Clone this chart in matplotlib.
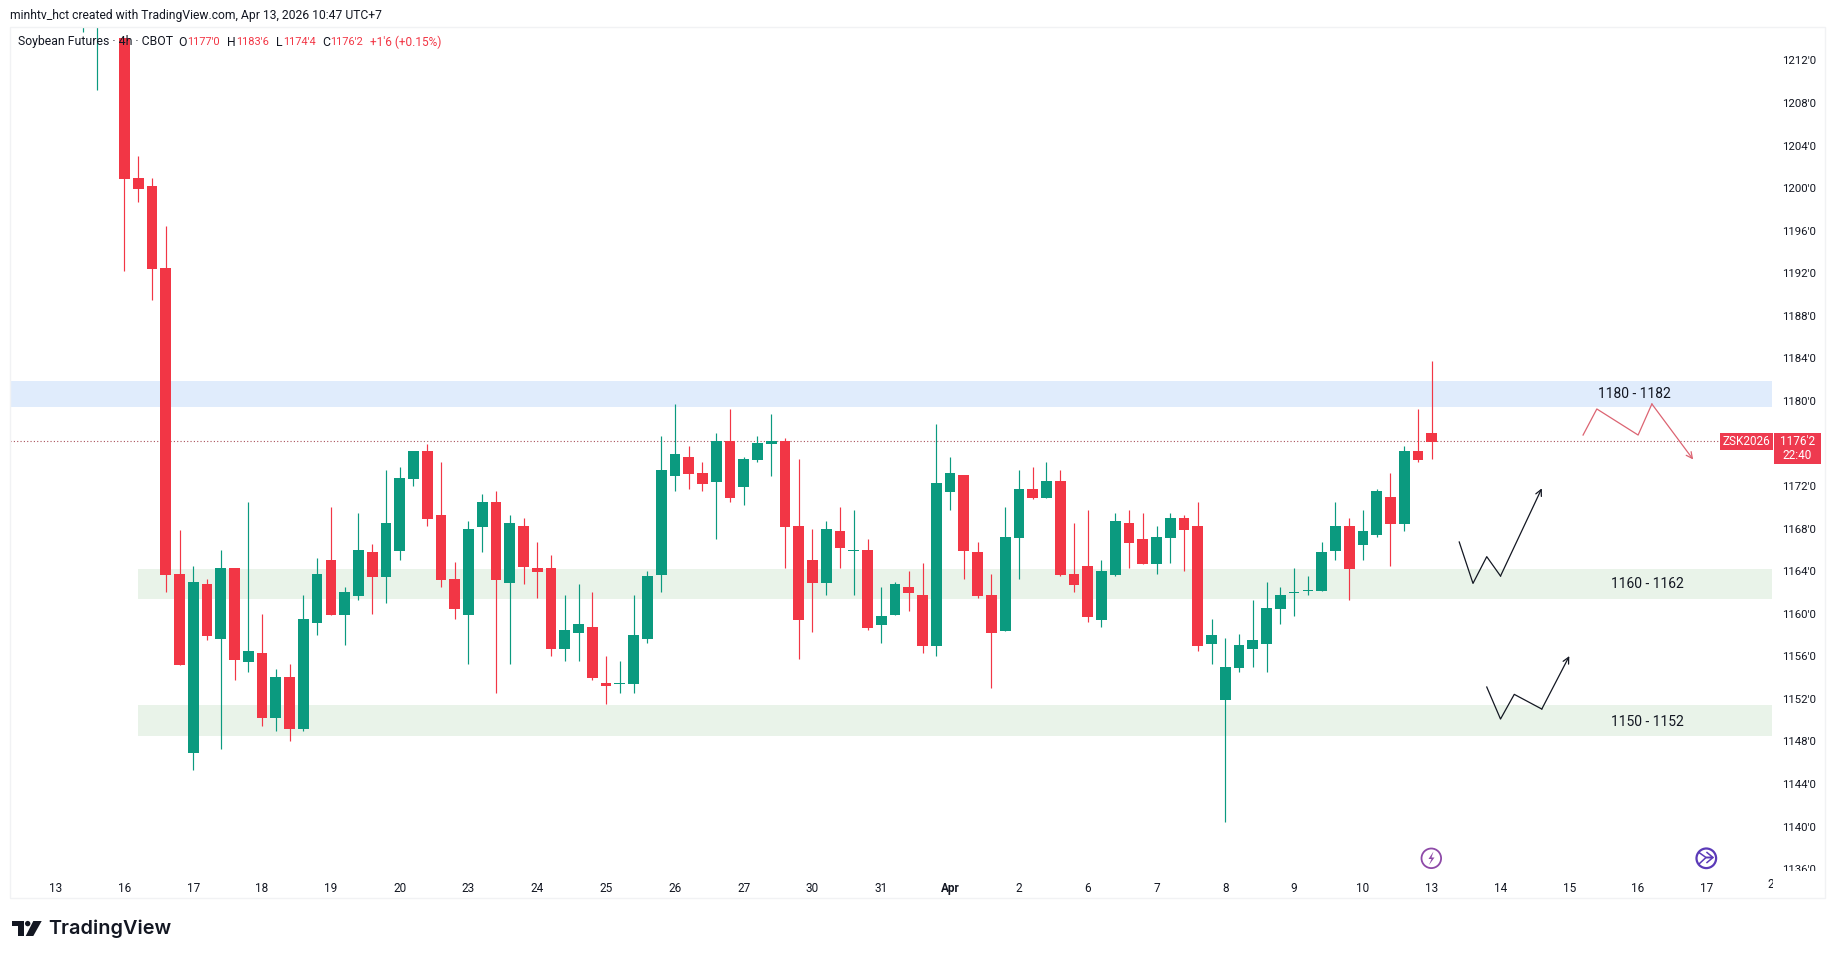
"""
plot.py

Soybean futures 4h candlestick chart with support and resistance zones.
"""

import matplotlib
matplotlib.use("Agg")
import matplotlib.pyplot as plt
import numpy as np
from matplotlib.patches import Circle, Polygon, Rectangle
from matplotlib.transforms import Bbox

W, H = 1835, 959

# --- Candles, bar index starts at 2 ---
first_bar = 2
opens = [1219.0, 1218.0, 1220.0, 1214.1, 1200.96, 1200.21, 1192.5, 1163.74, 1146.91, 1162.8,
         1157.63, 1164.3, 1155.46, 1156.31, 1150.2, 1154.06, 1149.17, 1159.13, 1165.05, 1159.88,
         1161.67, 1165.8, 1163.45, 1165.9, 1172.67, 1175.3, 1169.28, 1163.27, 1159.88, 1168.15,
         1170.5, 1162.89, 1168.25, 1164.3, 1164.3, 1156.69, 1158.19, 1158.76, 1153.49, 1153.4,
         1153.4, 1157.63, 1163.64, 1172.95, 1174.73, 1173.23, 1172.38, 1176.24, 1171.91, 1174.45,
         1175.99, 1176.24, 1168.25, 1165.05, 1162.89, 1167.78, 1165.9, 1165.99, 1158.94, 1159.88,
         1162.52, 1161.76, 1156.97, 1171.44, 1173.04, 1165.8, 1161.76, 1158.38, 1167.12, 1171.73,
         1170.88, 1172.48, 1163.74, 1164.49, 1159.41, 1163.64, 1168.53, 1167.03, 1164.68, 1167.12,
         1169.0, 1168.25, 1157.16, 1151.9, 1154.9, 1156.69, 1157.16, 1160.45, 1161.95, 1162.14,
         1162.14, 1165.9, 1168.25, 1166.46, 1167.4, 1170.97, 1168.44, 1175.3, 1176.99]
closes = [1222.0, 1222.0, 1216.0, 1200.87, 1199.96, 1192.44, 1163.64, 1155.18, 1162.98, 1157.91,
          1164.3, 1155.65, 1156.5, 1150.2, 1154.06, 1149.17, 1159.5, 1163.74, 1159.88, 1162.04,
          1165.99, 1163.45, 1168.53, 1172.77, 1175.3, 1168.9, 1163.17, 1160.45, 1167.96, 1170.5,
          1163.17, 1168.53, 1164.4, 1163.93, 1156.69, 1158.47, 1159.04, 1153.96, 1153.21, 1153.49,
          1158.0, 1163.55, 1173.51, 1175.02, 1173.14, 1172.2, 1176.24, 1170.88, 1174.55, 1176.05,
          1176.2, 1168.15, 1159.41, 1162.89, 1167.97, 1166.18, 1165.99, 1158.66, 1159.79, 1162.8,
          1161.95, 1156.97, 1172.29, 1173.23, 1165.9, 1161.67, 1158.19, 1167.21, 1171.73, 1170.88,
          1172.48, 1163.64, 1162.7, 1159.69, 1164.02, 1168.72, 1166.65, 1164.68, 1167.21, 1169.0,
          1167.87, 1156.97, 1158.0, 1154.99, 1157.06, 1157.53, 1160.54, 1161.76, 1162.05, 1162.23,
          1165.8, 1168.25, 1164.21, 1167.78, 1171.54, 1168.44, 1175.3, 1174.45, 1176.14]
highs = [1224.0, 1224.0, 1222.0, 1214.1, 1203.06, 1200.96, 1196.48, 1167.87, 1164.49, 1163.3,
         1166.02, 1164.3, 1170.5, 1159.98, 1154.81, 1155.28, 1161.79, 1165.24, 1170.06, 1162.54,
         1169.44, 1166.55, 1173.52, 1173.83, 1175.3, 1176.0, 1174.27, 1164.86, 1168.72, 1171.25,
         1171.54, 1169.28, 1169.0, 1166.74, 1165.52, 1161.76, 1162.8, 1162.05, 1156.03, 1155.56,
         1161.76, 1164.02, 1176.71, 1179.71, 1175.77, 1174.3, 1176.99, 1179.24, 1174.73, 1176.74,
         1178.81, 1176.52, 1174.55, 1167.97, 1168.72, 1170.03, 1169.75, 1167.03, 1162.52, 1162.99,
         1164.02, 1164.77, 1177.8, 1174.73, 1173.04, 1166.74, 1163.74, 1170.06, 1173.51, 1173.82,
         1174.3, 1173.54, 1168.56, 1169.75, 1165.05, 1169.47, 1169.75, 1169.47, 1168.25, 1169.47,
         1169.28, 1170.5, 1159.51, 1157.72, 1158.07, 1161.29, 1162.99, 1162.52, 1164.3, 1163.55,
         1166.74, 1170.5, 1169.0, 1169.75, 1171.73, 1173.23, 1175.77, 1179.24, 1183.76]
lows = [1214.7, 1209.2, 1215.5, 1192.2, 1198.74, 1189.5, 1162.07, 1155.18, 1145.31, 1157.53,
        1147.26, 1153.77, 1154.53, 1149.45, 1148.98, 1148.04, 1149.01, 1158.0, 1159.88, 1157.06,
        1161.29, 1159.98, 1161.01, 1165.05, 1172.0, 1168.25, 1162.5, 1159.5, 1155.28, 1165.8,
        1152.52, 1155.28, 1162.8, 1161.45, 1156.03, 1155.56, 1155.56, 1153.77, 1151.52, 1152.52,
        1152.52, 1157.22, 1162.04, 1171.54, 1171.73, 1171.54, 1166.99, 1170.5, 1170.22, 1174.26,
        1172.98, 1164.3, 1155.75, 1158.29, 1161.76, 1164.3, 1161.76, 1158.47, 1157.25, 1159.88,
        1160.26, 1156.28, 1156.03, 1169.75, 1163.27, 1161.48, 1153.02, 1158.38, 1163.27, 1170.79,
        1170.88, 1163.55, 1162.04, 1159.22, 1158.76, 1163.55, 1164.3, 1164.68, 1163.74, 1164.77,
        1164.02, 1156.5, 1155.28, 1140.46, 1154.53, 1155.0, 1154.53, 1159.04, 1159.79, 1161.76,
        1162.14, 1165.05, 1161.29, 1165.05, 1167.21, 1164.49, 1167.78, 1174.26, 1174.55]

# --- Axis ticks ---
date_ticks = [0, 5, 10, 15, 20, 25, 30, 35, 40, 45, 50, 55, 60, 65, 70, 75, 80, 85, 90, 95, 100,
              105, 110, 115, 120]
date_labels = ["13", "16", "17", "18", "19", "20", "23", "24", "25", "26", "27", "30", "31", "Apr",
               "2", "6", "7", "8", "9", "10", "13", "14", "15", "16", "17"]
cut_date_tick = 124.65
cut_date_label = "2"
# 1176'0 sits under the last price label, so it has no tick
price_ticks = [v for v in range(1136, 1216, 4) if v != 1176]
last_price = 1176.25

# --- Zones: bottom, top, first bar, label, label position ---
zone_bottoms = [1179.45, 1161.4, 1148.5]
zone_tops = [1181.9, 1164.2, 1151.45]
zone_starts = [-3.32, 6.0, 6.0]
zone_colors = ["#e0ecfc", "#e9f3e9", "#e9f3e9"]
zone_labels = ["1180 - 1182", "1160 - 1162", "1150 - 1152"]
zone_label_x = [114.7, 115.7, 115.7]
zone_label_y = [1180.7, 1162.76, 1149.82]

# --- Hand drawn paths ---
red_path_x = [111, 112, 115, 116, 119]
red_path_y = [1176.8, 1179.25, 1176.8, 1179.72, 1174.5]
up_path_x = [102, 103, 104, 105, 108]
up_path_y = [1166.75, 1162.86, 1165.37, 1163.55, 1171.79]
low_path_x = [104, 105, 106, 108, 110]
low_path_y = [1153.12, 1150.11, 1152.43, 1151.05, 1156.03]

GREEN = "#0b9a7f"
RED = "#f23645"
TEXT = "#131722"
FONT = "Roboto"


def px_rect(x0, y0, x1, y1, **kw):
    """Rectangle in screen pixels, y measured from the top."""
    kw.setdefault("linewidth", 0)
    return Rectangle((x0, H - y1), x1 - x0, y1 - y0, transform=None, **kw)


def px_text(fig, x, y, s, **kw):
    """Text at screen pixels, y measured from the top."""
    kw.setdefault("family", FONT)
    kw.setdefault("va", "center")
    return fig.text(x / W, 1 - y / H, s, **kw)


def clip_labels(labels, x0, y0, x1, y1):
    box = Bbox([[x0, H - y1], [x1, H - y0]])
    for lbl in labels:
        lbl.set_clip_box(box)
        lbl.set_clip_on(True)


def draw_path(ax, xs, ys, color):
    ax.plot(xs[:-1], ys[:-1], color=color, linewidth=0.9, zorder=5)
    ax.annotate("", xy=(xs[-1], ys[-1]), xytext=(xs[-2], ys[-2]), zorder=5,
                arrowprops=dict(arrowstyle="->", color=color, linewidth=0.9,
                                shrinkA=0, shrinkB=0, mutation_scale=11))


fig = plt.figure(figsize=(W / 100, H / 100), dpi=100, facecolor="white")
ax = fig.add_axes([10 / W, (H - 871) / H, 1762 / W, (871 - 27.7) / H])
for spine in ax.spines.values():
    spine.set_visible(False)

# --- Zones ---
for bottom, top, start, color in zip(zone_bottoms, zone_tops, zone_starts, zone_colors):
    ax.fill_between([start, 124.73], bottom, top, color=color, linewidth=0, zorder=1)
for x, y, label in zip(zone_label_x, zone_label_y, zone_labels):
    ax.text(x, y, label, ha="center", va="center", color=TEXT, fontsize=10, family=FONT, zorder=6)

# --- Last price line ---
ax.plot([-3.32, 124.73], [last_price, last_price], color="#a8505a", linewidth=0.8,
        linestyle=(0, (1, 2)), zorder=2)

# --- Candles ---
bars = np.arange(first_bar, first_bar + len(opens))
o, c, hi, lo = map(np.array, (opens, closes, highs, lows))
colors = [GREEN if b >= a else RED for a, b in zip(o, c)]
ax.vlines(bars, lo, hi, colors=colors, linewidth=0.85, zorder=3)
ax.bar(bars, np.maximum(np.abs(c - o), 0.1), bottom=np.minimum(o, c), width=0.78,
       color=colors, linewidth=0, zorder=4)

# --- Arrows ---
draw_path(ax, red_path_x, red_path_y, "#dc6472")
draw_path(ax, up_path_x, up_path_y, "#131722")
draw_path(ax, low_path_x, low_path_y, "#131722")

# --- Axis labels ---
ax.set_xticks(date_ticks)
ax.set_xticklabels(date_labels, family=FONT, fontsize=8.5, color=TEXT)
ax.get_xticklabels()[13].set_fontweight("bold")
ax.tick_params(axis="x", length=0, pad=8)
ax.yaxis.tick_right()
ax.set_yticks(price_ticks)
ax.set_yticklabels([f"{v}'0" for v in price_ticks], family=FONT, fontsize=8.2, color=TEXT)
ax.tick_params(axis="y", length=0, pad=7.2)
ax.set_xlim(-3.32, 124.73)
ax.set_ylim(1135.83, 1215.08)
clip_labels(ax.get_yticklabels(), 1774, 27, 1825, 871)

# the last date runs into the pane edge and is cut there
cut_label = ax.text(cut_date_tick, -14 / 843.3, cut_date_label, transform=ax.get_xaxis_transform(),
                    ha="center", va="center", family=FONT, fontsize=8.5, color=TEXT)
clip_labels([cut_label], 10, 871, 1773, 898)

# --- Pane frame ---
fig.add_artist(px_rect(10, 27, 1825, 898, facecolor="none", edgecolor="#f1f2f4", linewidth=1))

# --- Header and legend ---
px_text(fig, 10, 15, "minhtv_hct created with TradingView.com, Apr 13, 2026 10:47 UTC+7",
        fontsize=8.75, color=TEXT)
px_text(fig, 18, 42, "Soybean Futures · 4h · CBOT", fontsize=8.8, color=TEXT)
legend_parts = [(178.7, "O", TEXT, 8.8), (187.3, "1177'0", RED, 7.9), (227.3, "H", TEXT, 8.8),
                (236, "1183'6", RED, 7.9), (276, "L", TEXT, 8.8), (282.7, "1174'4", RED, 7.9),
                (322.7, "C", TEXT, 8.8), (330, "1176'2", RED, 7.9), (370, "+1'6 (+0.15%)", RED, 8.6)]
for x, s, color, size in legend_parts:
    px_text(fig, x, 42, s, fontsize=size, color=color)

# --- Price labels ---
fig.add_artist(px_rect(1720, 433.3, 1772.7, 449.7, facecolor="#ee3a4f"))
fig.add_artist(px_rect(1774, 433.3, 1820.7, 463.7, facecolor="#ee3a4f"))
px_text(fig, 1746.3, 441.5, "ZSK2026", ha="center", fontsize=8.5, color="white")
px_text(fig, 1797.3, 441.5, "1176'2", ha="center", fontsize=8.5, color="white")
px_text(fig, 1797.3, 455.5, "22:40", ha="center", fontsize=8.5, color="white")

# --- Event icons on the time axis ---
lightning = [(1433.5, 851.5), (1428.5, 859), (1431.5, 859), (1429, 865), (1434.5, 857.5), (1431.5, 857.5)]
fig.add_artist(Circle((1431.3, H - 858.3), 9.8, transform=None, facecolor="white",
                      edgecolor="#8e4aa8", linewidth=1.3))
fig.add_artist(Polygon([(x, H - y) for x, y in lightning], transform=None, facecolor="#8e4aa8", linewidth=0))
fig.add_artist(Circle((1706.3, H - 858.3), 9.8, transform=None, facecolor="white",
                      edgecolor="#5b3ab8", linewidth=1.6))
for xs, ys in [([1699, 1706, 1713, 1707], [852.5, 857.5, 857.5, 852.5]),
               ([1699, 1706, 1713, 1707], [864, 857.5, 857.5, 862.5])]:
    fig.add_artist(plt.Line2D(xs, [H - y for y in ys], transform=None, color="#5b3ab8", linewidth=1.1))

# --- Logo ---
logo_t = [(12.3, 921), (24.3, 921), (24.3, 936), (17.7, 936), (17.7, 925.7), (12.3, 925.7)]
logo_slash = [(33.3, 921), (41.7, 921), (33.3, 936), (25.7, 936)]
for shape in (logo_t, logo_slash):
    fig.add_artist(Polygon([(x, H - y) for x, y in shape], transform=None, facecolor="#131722", linewidth=0))
fig.add_artist(Circle((27.7, H - 923.6), 2.7, transform=None, facecolor="#131722", linewidth=0))
px_text(fig, 48.5, 928.5, "TradingView", family="Inter", fontweight="semibold", fontsize=14.3, color="#131722")

fig.savefig("out.png", dpi=100)
